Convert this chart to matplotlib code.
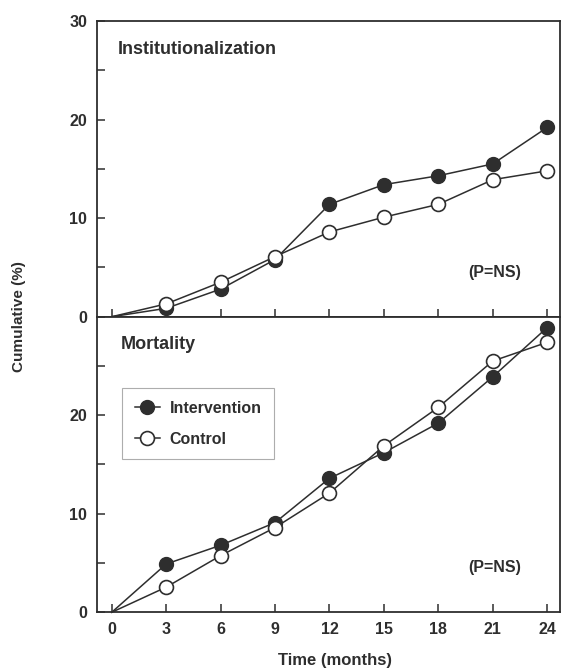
import numpy as np
import matplotlib
matplotlib.use("Agg")
import matplotlib.pyplot as plt
from matplotlib.ticker import MultipleLocator

plt.rcParams['font.family'] = ['Liberation Sans', 'DejaVu Sans']
plt.rcParams['font.weight'] = 'bold'

months = [0, 3, 6, 9, 12, 15, 18, 21, 24]

# Institutionalization (%)
inst_intervention = [0, 0.85, 2.8, 5.8, 11.4, 13.4, 14.3, 15.5, 19.2]
inst_control = [0, 1.3, 3.5, 6.1, 8.6, 10.1, 11.4, 13.9, 14.8]

# Mortality (%)
mort_intervention = [0, 4.9, 6.8, 9.1, 13.6, 16.2, 19.2, 23.9, 28.9]
mort_control = [0, 2.55, 5.75, 8.6, 12.1, 16.9, 20.8, 25.5, 27.4]

ink = "#2e2e2e"
fig = plt.figure(figsize=(5.61, 6.69), dpi=100)
ax_top = fig.add_axes([0.1724, 0.5266, 0.8256, 0.4420])
ax_bot = fig.add_axes([0.1724, 0.0848, 0.8256, 0.4418])


def style(ax, ylabels):
    ax.set_xlim(-0.83, 24.7)
    ax.set_ylim(0, 30)
    ax.set_xticks(months)
    ax.yaxis.set_major_locator(MultipleLocator(10))
    ax.yaxis.set_minor_locator(MultipleLocator(5))
    for s in ax.spines.values():
        s.set_color(ink)
        s.set_linewidth(1.3)
    ax.tick_params(which="both", direction="in", length=5.5, width=1.1,
                   color=ink, labelcolor=ink, labelsize=11.5, pad=7,
                   top=False, right=False)
    ax.set_yticks(ylabels)


def draw(ax, a, b):
    # no marker drawn at the origin, as in the original
    ax.plot(months, a, "-o", color=ink, lw=1.1, ms=10, mfc=ink, mec=ink,
            markevery=list(range(1, len(months))),
            label="Intervention", clip_on=False, zorder=3)
    ax.plot(months, b, "-o", color=ink, lw=1.1, ms=10, mfc="white", mec=ink,
            mew=1.2, markevery=list(range(1, len(months))),
            label="Control", clip_on=False, zorder=4)


draw(ax_top, inst_intervention, inst_control)
draw(ax_bot, mort_intervention, mort_control)

style(ax_top, [0, 10, 20, 30])
ax_top.tick_params(axis="x", labelbottom=False)
style(ax_bot, [0, 10, 20])

ax_top.text(0.045, 0.905, "Institutionalization", transform=ax_top.transAxes,
            fontsize=13, color=ink, va="center")
ax_top.text(0.86, 0.151, "(P=NS)", transform=ax_top.transAxes,
            fontsize=11.5, color=ink, va="center", ha="center")
ax_bot.text(0.052, 0.905, "Mortality", transform=ax_bot.transAxes,
            fontsize=13, color=ink, va="center")
ax_bot.text(0.86, 0.150, "(P=NS)", transform=ax_bot.transAxes,
            fontsize=11.5, color=ink, va="center", ha="center")

leg = ax_bot.legend(loc="upper left", bbox_to_anchor=(0.054, 0.759),
                    borderaxespad=0, frameon=True, fancybox=False,
                    fontsize=11.5, handlelength=1.6, handletextpad=0.6,
                    labelspacing=1.0, borderpad=0.8, labelcolor=ink)
leg.get_frame().set_edgecolor("#999999")
leg.get_frame().set_linewidth(0.8)

fig.text(0.034, 0.527, "Cumulative (%)", rotation=90, va="center", ha="center",
         fontsize=11, color=ink)
fig.text(0.597, 0.012, "Time (months)", ha="center", va="center",
         fontsize=12, color=ink)

fig.savefig("out.png", dpi=100)
